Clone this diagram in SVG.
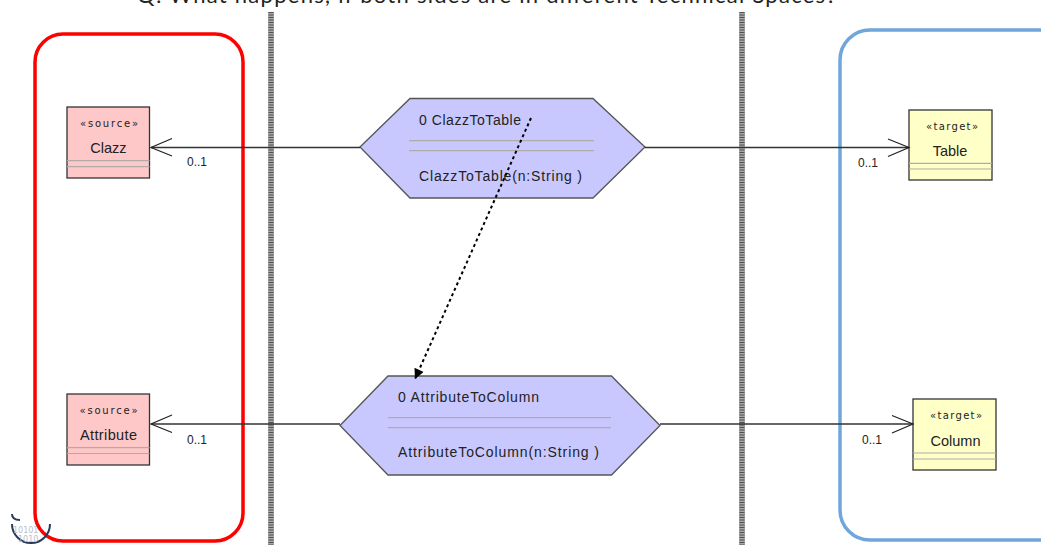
<svg xmlns="http://www.w3.org/2000/svg" width="1041" height="545" viewBox="0 0 1041 545">
<style>
.title{font-family:Lato,"Open Sans",sans-serif;font-size:22px;fill:#222;}
.lbl{font-family:"Liberation Sans",Arial,sans-serif;font-size:14px;fill:#222;}
.st{font-family:"DejaVu Sans",Verdana,sans-serif;font-size:10px;fill:#222;}
.nm{font-family:"Liberation Sans",Arial,sans-serif;font-size:14.5px;fill:#222;}
.mult{font-family:"Liberation Sans",Arial,sans-serif;font-size:12px;fill:#222;}
.src{fill:#ffc8c8;stroke:#333;stroke-width:1.3;}
.tgt{fill:#ffffc8;stroke:#333;stroke-width:1.3;}
.hex{fill:#c8c8ff;stroke:#555;stroke-width:1.3;}
.sep{stroke:#b0aaaa;stroke-width:1.2;}
.conn{fill:none;stroke:#333;stroke-width:1.3;}
.open{fill:none;stroke:#222;stroke-width:1.2;}
.bar{fill:#a8a8a8;}
.bardash{stroke:#333;stroke-width:5;stroke-dasharray:1 1.5;opacity:0.75;}
</style>
<defs>
<marker id="filled" viewBox="0 0 10 10" refX="10" refY="5" markerWidth="12" markerHeight="10" markerUnits="userSpaceOnUse" orient="auto">
<path d="M0,0 L10,5 L0,10 z" fill="#000"/>
</marker>
</defs>
<text class="title" x="137" y="3" textLength="699">Q: What happens, if both sides are in different Technical Spaces?</text>
<g id="swimlanes">
<rect class="bar" x="268" y="12" width="6" height="533"/>
<line class="bardash" x1="271" y1="12" x2="271" y2="545"/>
<rect class="bar" x="739" y="12" width="6" height="533"/>
<line class="bardash" x1="742" y1="12" x2="742" y2="545"/>
</g>
<g id="source-space">
<rect x="35" y="34" width="208" height="507" rx="28" ry="28" fill="none" stroke="#f00" stroke-width="3.5"/>
</g>
<g id="target-space">
<rect x="840" y="30" width="230" height="510" rx="30" ry="30" fill="none" stroke="#6fa6dc" stroke-width="3.5"/>
</g>
<g id="Clazz">
<rect class="src" x="67" y="107" width="82.5" height="71"/>
<line class="sep" x1="67" y1="160.7" x2="149.5" y2="160.7"/>
<line class="sep" x1="67" y1="166.7" x2="149.5" y2="166.7"/>
<text class="st" x="109" y="127" text-anchor="middle" textLength="58">«source»</text>
<text class="nm" x="108.5" y="153" text-anchor="middle">Clazz</text>
</g>
<g id="Attribute">
<rect class="src" x="67" y="394" width="82.5" height="71"/>
<line class="sep" x1="67" y1="447.7" x2="149.5" y2="447.7"/>
<line class="sep" x1="67" y1="453.5" x2="149.5" y2="453.5"/>
<text class="st" x="108.5" y="414" text-anchor="middle" textLength="58">«source»</text>
<text class="nm" x="108.5" y="440" text-anchor="middle" textLength="57">Attribute</text>
</g>
<g id="Table">
<rect class="tgt" x="909" y="110" width="83" height="70"/>
<line class="sep" x1="909" y1="163.3" x2="992" y2="163.3"/>
<line class="sep" x1="909" y1="169" x2="992" y2="169"/>
<text class="st" x="952" y="130" text-anchor="middle" textLength="52">«target»</text>
<text class="nm" x="950" y="156" text-anchor="middle">Table</text>
</g>
<g id="Column">
<rect class="tgt" x="913" y="399" width="83" height="71"/>
<line class="sep" x1="913" y1="453" x2="996" y2="453"/>
<line class="sep" x1="913" y1="459" x2="996" y2="459"/>
<text class="st" x="956" y="419" text-anchor="middle" textLength="52">«target»</text>
<text class="nm" x="955.5" y="446" text-anchor="middle">Column</text>
</g>
<g id="ClazzToTable">
<polygon class="hex" points="360,147 410,98.5 593,98.5 645,147 593,198 410,198"/>
<line class="sep" x1="409" y1="140.7" x2="594" y2="140.7"/>
<line class="sep" x1="409" y1="150.7" x2="594" y2="150.7"/>
<text class="lbl" x="419" y="125" textLength="102">0 ClazzToTable</text>
<text class="lbl" x="419" y="181" textLength="163">ClazzToTable(n:String  )</text>
</g>
<g id="AttributeToColumn">
<polygon class="hex" points="340,425.5 388,376 611.5,376 660,425.5 611.5,475 388,475"/>
<line class="sep" x1="388" y1="417.7" x2="611" y2="417.7"/>
<line class="sep" x1="388" y1="427.7" x2="611" y2="427.7"/>
<text class="lbl" x="398" y="402" textLength="141">0 AttributeToColumn</text>
<text class="lbl" x="398" y="457" textLength="201">AttributeToColumn(n:String  )</text>
</g>
<g id="connectors">
<line class="conn" x1="360" y1="147.5" x2="151" y2="147.5"/>
<polyline class="open" points="172,138.5 151,147.5 172,156"/>
<line class="conn" x1="645" y1="147.5" x2="909" y2="147.5"/>
<polyline class="open" points="888,139 909,147.5 888,156.5"/>
<line class="conn" x1="340" y1="424" x2="151" y2="424"/>
<polyline class="open" points="172,415 151,424 172,432.5"/>
<line class="conn" x1="660" y1="424" x2="913" y2="424"/>
<polyline class="open" points="892,415.5 913,424 892,433"/>
<text class="mult" x="187" y="166">0..1</text>
<text class="mult" x="858" y="167">0..1</text>
<text class="mult" x="187" y="444">0..1</text>
<text class="mult" x="862" y="444">0..1</text>
<line x1="531" y1="118" x2="415" y2="379" stroke="#000" stroke-width="2" stroke-dasharray="3 3" marker-end="url(#filled)"/>
</g>
<g id="logo">
<path d="M12,524 A19,19 0 0 0 50,524" fill="none" stroke="#2a3a5a" stroke-width="2"/>
<path d="M12,514 q0,6 8,6" fill="none" stroke="#2a3a5a" stroke-width="2"/>
<text x="13" y="533" font-family="DejaVu Sans,sans-serif" font-size="8" fill="#b8bcd0">10101</text>
<text x="18" y="542" font-family="DejaVu Sans,sans-serif" font-size="8" fill="#b8bcd0">1010</text>
</g>
</svg>
